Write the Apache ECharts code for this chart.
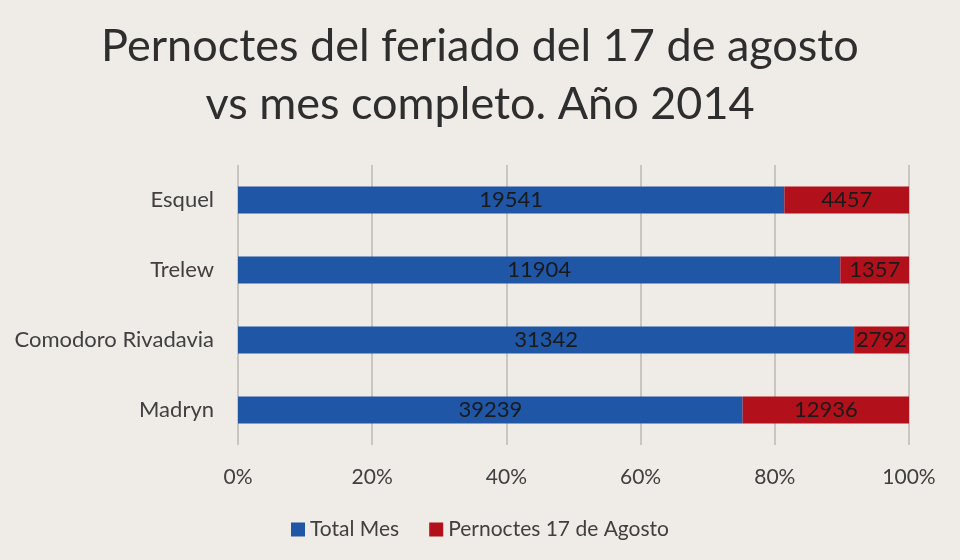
<!DOCTYPE html>
<html lang="es">
<head>
  <meta charset="UTF-8">
  <title>Pernoctes</title>
  <style>
    body, html { margin: 0; padding: 0; background: #efebe6; }
    #main { width: 960px; height: 560px; }
  </style>
</head>
<body>
  <div id="main"></div>
  <script src="https://cdn.jsdelivr.net/npm/echarts@6/dist/echarts.min.js"></script>
  <script>
    // datos
    var ciudades = ['Esquel', 'Trelew', 'Comodoro Rivadavia', 'Madryn'];
    var totalMes = [19541, 11904, 31342, 39239];
    var feriado = [4457, 1357, 2792, 12936];
    var ticks = [0, 20, 40, 60, 80, 100];

    // porcentajes para apilar al 100%
    function pct(arr, i) {
      return arr[i] / (totalMes[i] + feriado[i]) * 100;
    }
    var totalPct = ciudades.map(function (c, i) { return pct(totalMes, i); });
    var feriadoPct = ciudades.map(function (c, i) { return pct(feriado, i); });

    var font = 'Lato';
    var chart = echarts.init(document.getElementById('main'));
    var labelStyle = {
      show: true,
      position: 'inside',
      color: '#1a1a1a',
      fontFamily: font,
      fontSize: 22
    };
    var option = {
      backgroundColor: '#efebe6',
      title: {
        text: 'Pernoctes del feriado del 17 de agosto\nvs mes completo. Año 2014',
        left: 'center',
        top: 12,
        textStyle: {
          color: '#2e2e2e',
          fontFamily: font,
          fontWeight: 'normal',
          fontSize: 45,
          lineHeight: 58
        }
      },
      legend: {
        bottom: 15,
        left: 'center',
        icon: 'rect',
        itemWidth: 14,
        itemHeight: 14,
        itemGap: 30,
        textStyle: { color: '#404040', fontFamily: font, fontSize: 21 },
        data: ['Total Mes', 'Pernoctes 17 de Agosto']
      },
      grid: { left: 238, right: 51, top: 165, bottom: 115 },
      xAxis: {
        type: 'value',
        min: 0,
        max: 100,
        interval: 20,
        axisLine: { show: false },
        axisTick: { show: false },
        axisLabel: {
          color: '#404040',
          fontFamily: font,
          fontSize: 21,
          margin: 22,
          formatter: function (v) { return ticks.indexOf(v) >= 0 ? v + '%' : ''; }
        },
        splitLine: { lineStyle: { color: '#bdbab6', width: 1.5 } }
      },
      yAxis: {
        type: 'category',
        inverse: true,
        data: ciudades,
        axisLine: { show: false },
        axisTick: { show: false },
        axisLabel: { color: '#404040', fontFamily: font, fontSize: 22, margin: 24 }
      },
      series: [
        {
          name: 'Total Mes',
          type: 'bar',
          stack: 'total',
          barWidth: 27,
          itemStyle: { color: '#1f56a6' },
          label: Object.assign({}, labelStyle, {
            formatter: function (p) { return totalMes[p.dataIndex]; }
          }),
          data: totalPct
        },
        {
          name: 'Pernoctes 17 de Agosto',
          type: 'bar',
          stack: 'total',
          barWidth: 27,
          itemStyle: { color: '#b2101b' },
          label: Object.assign({}, labelStyle, {
            formatter: function (p) { return feriado[p.dataIndex]; }
          }),
          data: feriadoPct
        }
      ]
    };
    chart.setOption(option);
  </script>
</body>
</html>
